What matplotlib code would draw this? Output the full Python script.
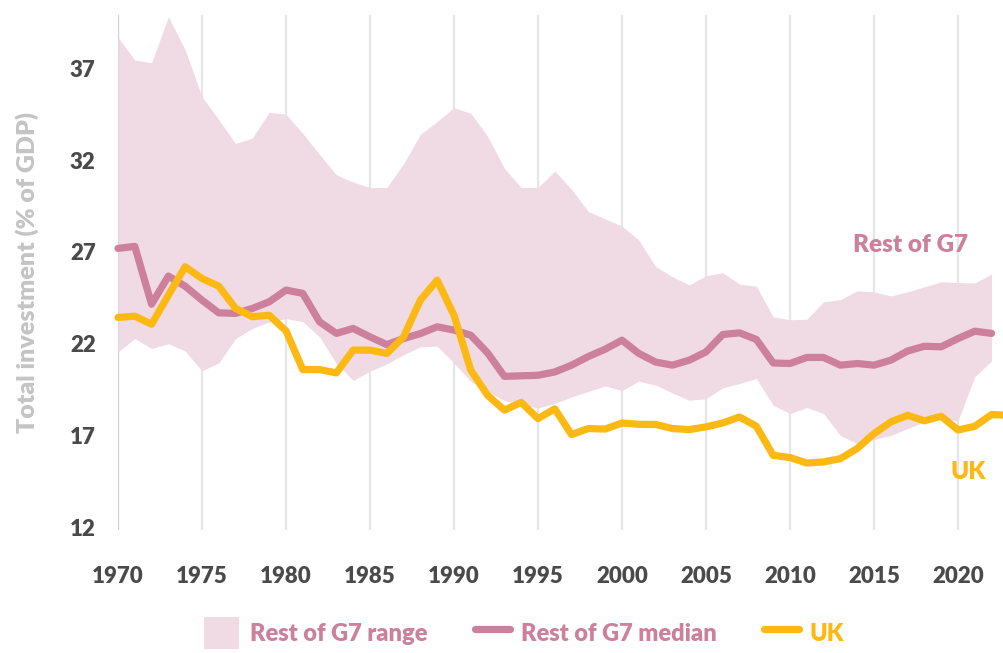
import matplotlib
matplotlib.use("Agg")
import matplotlib.pyplot as plt
from matplotlib.patches import Patch
from matplotlib.lines import Line2D

PINK = "#cc809c"
BAND = "#f0dae3"
GOLD = "#fdb913"
TICK_COLOR = "#4a4a4a"

years = list(range(1970, 2023))

g7_high = [38.7, 37.45, 37.3, 39.8, 38.0, 35.45, 34.2, 32.9, 33.2, 34.6,
           34.5, 33.45, 32.3, 31.2, 30.8, 30.5, 30.5, 31.8, 33.4, 34.1,
           34.85, 34.55, 33.3, 31.55, 30.5, 30.5, 31.4, 30.4, 29.2, 28.8,
           28.4, 27.65, 26.2, 25.65, 25.2, 25.7, 25.86, 25.24, 25.13, 23.46,
           23.3, 23.33, 24.28, 24.4, 24.88, 24.82, 24.6, 24.82, 25.1, 25.37,
           25.33, 25.3, 25.8]

g7_low = [21.55, 22.28, 21.74, 22.0, 21.6, 20.52, 20.95, 22.28, 22.83, 23.19,
          23.37, 23.2, 22.37, 20.92, 20.0, 20.5, 20.9, 21.4, 21.83, 21.86,
          20.95, 19.95, 19.4, 18.9, 18.7, 18.5, 18.75, 19.1, 19.4, 19.7,
          19.45, 19.96, 19.74, 19.32, 18.92, 19.0, 19.6, 19.83, 20.1, 18.65,
          18.2, 18.52, 18.2, 17.0, 16.56, 16.78, 17.0, 17.38, 17.74, 17.9,
          17.8, 20.2, 21.06]

g7_median = [27.19, 27.3, 24.15, 25.68, 25.13, 24.37, 23.68, 23.65, 23.92, 24.28,
             24.92, 24.74, 23.19, 22.56, 22.83, 22.37, 21.95, 22.28, 22.55, 22.92,
             22.74, 22.46, 21.5, 20.22, 20.25, 20.28, 20.46, 20.83, 21.3, 21.7,
             22.19, 21.47, 21.0, 20.83, 21.1, 21.55, 22.5, 22.59, 22.23, 20.95,
             20.92, 21.25, 21.25, 20.83, 20.92, 20.83, 21.1, 21.6, 21.86, 21.83,
             22.28, 22.68, 22.56]

uk_years = list(range(1970, 2024))
uk = [23.43, 23.5, 23.06, 24.64, 26.19, 25.55, 25.13, 23.92, 23.47, 23.55,
      22.7, 20.59, 20.59, 20.41, 21.65, 21.65, 21.47, 22.37, 24.37, 25.46,
      23.55, 20.56, 19.19, 18.38, 18.8, 17.92, 18.45, 17.05, 17.38, 17.35,
      17.68, 17.61, 17.6, 17.38, 17.32, 17.47, 17.68, 18.01, 17.5, 15.92,
      15.8, 15.5, 15.56, 15.74, 16.29, 17.1, 17.74, 18.1, 17.8, 18.05,
      17.3, 17.5, 18.14, 18.1]

x_ticks = list(range(1970, 2021, 5))
y_ticks = [12, 17, 22, 27, 32, 37]


def plot_chart():
    plt.rcParams["font.family"] = ["Lato", "DejaVu Sans"]
    fig = plt.figure(figsize=(10.04, 6.53), dpi=100)
    ax = fig.add_axes([0.1175, 0.188, 0.8825, 0.789])

    # vertical grid
    for yr in x_ticks:
        color = "#cfcfcf" if yr == 1970 else "#e6e6e6"
        ax.axvline(yr, color=color, lw=1.6, zorder=0)

    ax.fill_between(years, g7_low, g7_high, color=BAND, lw=0, zorder=1)
    ax.plot(years, g7_median, color=PINK, lw=5.2, solid_capstyle="round",
            solid_joinstyle="round", zorder=3, clip_on=False)
    ax.plot(uk_years, uk, color=GOLD, lw=5.2, solid_capstyle="round",
            solid_joinstyle="round", zorder=4, clip_on=False)

    ax.set_xlim(1970, 2022.74)
    ax.set_ylim(11.84, 39.9)
    ax.set_xticks(x_ticks)
    ax.set_yticks(y_ticks)
    ax.tick_params(length=0, labelsize=16, labelcolor=TICK_COLOR)
    ax.tick_params(axis="x", pad=26)
    ax.tick_params(axis="y", pad=16)
    for lab in ax.get_xticklabels() + ax.get_yticklabels():
        lab.set_fontweight("heavy")
    for side in ax.spines.values():
        side.set_visible(False)

    ax.set_ylabel("Total investment (% of GDP)", fontsize=18, fontweight="heavy",
                  color="#c4c4c4", labelpad=22)

    ax.text(2017.2, 27.4, "Rest of G7", color=PINK, fontsize=17.5,
            fontweight="heavy", ha="center", va="center")
    ax.text(2020.6, 15.0, "UK", color=GOLD, fontsize=17.5,
            fontweight="heavy", ha="center", va="center")

    handles = [
        Patch(facecolor=BAND, edgecolor="none"),
        Line2D([], [], color=PINK, lw=5.2, solid_capstyle="round"),
        Line2D([], [], color=GOLD, lw=5.2, solid_capstyle="round"),
    ]
    labels = ["Rest of G7 range", "Rest of G7 median", "UK"]
    leg = fig.legend(handles, labels, loc="center", bbox_to_anchor=(0.522, 0.03),
                     ncol=3, frameon=False, fontsize=17, handlelength=1.5,
                     handleheight=1.7, columnspacing=2.0, handletextpad=0.45,
                     borderpad=0.2)
    for text, col in zip(leg.get_texts(), [PINK, PINK, GOLD]):
        text.set_color(col)
        text.set_fontweight("heavy")

    fig.savefig("out.png", dpi=100)


def main():
    plot_chart()


if __name__ == "__main__":
    main()
